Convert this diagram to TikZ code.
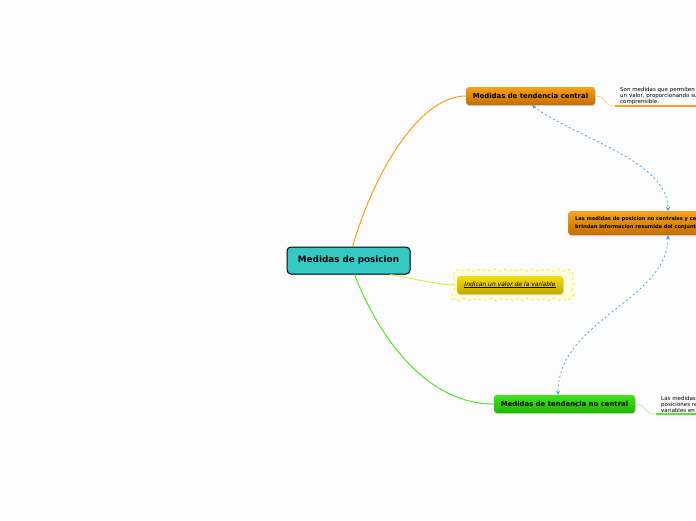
\documentclass[tikz,border=0pt]{standalone}
\usepackage{fontspec}
\setmainfont{DejaVu Sans}
\usetikzlibrary{positioning, arrows.meta, shadows, decorations.pathmorphing}
\definecolor{rootcyan}{HTML}{35C9C4}
\definecolor{orangetop}{HTML}{F7A21A}
\definecolor{orangebot}{HTML}{C46C00}
\definecolor{greentop}{HTML}{3EE41C}
\definecolor{greenbot}{HTML}{1FB600}
\definecolor{yellowtop}{HTML}{F2DC12}
\definecolor{yellowbot}{HTML}{C4A600}
\definecolor{linkblue}{HTML}{4B9BE0}
\definecolor{lineorange}{HTML}{F9A11B}
\definecolor{linegreen}{HTML}{4EE828}
\definecolor{lineyellow}{HTML}{D6F03C}
\newcommand{\subrayado}[1]{\setbox0\hbox{#1}\rlap{\rule[-0.9pt]{\wd0}{0.35pt}}\box0}

\begin{document}
\begin{tikzpicture}[
		x=1pt, y=-1pt,
		topic/.style={rounded corners=3pt, minimum height=18pt, inner sep=2pt, align=center,
			font=\fontsize{6.9}{8}\selectfont\bfseries,
			drop shadow={shadow xshift=0.8pt, shadow yshift=-1.2pt, opacity=0.3}},
		rootbox/.style={topic, draw=black, line width=1pt, fill=rootcyan, rounded corners=4pt,
			minimum width=123pt, minimum height=27pt, font=\fontsize{8.8}{10}\selectfont\bfseries},
		orangebox/.style={topic, top color=orangetop, bottom color=orangebot},
		greenbox/.style={topic, top color=greentop, bottom color=greenbot},
		yellowbox/.style={topic, top color=yellowtop, bottom color=yellowbot,
			font=\fontsize{6}{7}\selectfont\itshape},
		halo/.style={draw=yellow!90!orange, dashed, fill=yellow!14, line width=0.6pt,
			decorate, decoration={snake, amplitude=1.2pt, segment length=9pt}},
		note/.style={align=left, inner sep=1pt, text width=110pt,
			font=\fontsize{5.5}{6.2}\selectfont},
		biarrow/.style={{Stealth[length=4pt, width=4pt]}-{Stealth[length=4pt, width=4pt]},
			dash pattern=on 2pt off 2.5pt, linkblue, line width=0.7pt}
		]
		
		\useasboundingbox (0,0) rectangle (696,520);
		\clip (0,0) rectangle (696,520);
		\fill[white!99!black] (0,0) rectangle (696,520);
		
		% ROOT NODE (Center)
		\node[rootbox] (posicion) at (348.5,260.5) {Medidas de posicion};
		
		% BRANCHES
		\node[orangebox, minimum width=129pt] (central) at (530.5,96) {Medidas de tendencia central};
		\node[greenbox, minimum width=141pt] (nocentral) at (564.5,404) {Medidas de tendencia no central};
		\node[halo, minimum width=116pt, minimum height=29pt] (haloValor) at (510,285) {};
		\node[yellowbox, minimum width=106pt] (valor) at (510,285) {\subrayado{Indican un valor de la variable}};
		
		% SHARED NODE (Right)
		\node[orangebox, anchor=north west, minimum height=24pt, align=left, inner xsep=7pt,
			font=\fontsize{5.1}{7.5}\selectfont\bfseries] (noCentrales) at (568,211)
			{Las medidas de posicion no centrales y centrales\\brindan informacion resumida del conjunto de datos};
		
		% NOTES
		\node[note, anchor=south west] (notaCentral) at (615,106) {\hspace*{4pt}Son medidas que permiten resumir\\\hspace*{4pt}un valor, proporcionando su\\\hspace*{4pt}comprensible.};
		\node[note, anchor=south west] (notaNoCentral) at (656,414) {\hspace*{4pt}Las medidas de\\\hspace*{4pt}posiciones relativas\\\hspace*{4pt}variables en};
		
		% CONNECTIONS
		\draw[lineorange, line width=1pt] ([xshift=4pt]posicion.north) .. controls (375,170) and (420,96) .. (central.west);
		\draw[linegreen, line width=1pt] ([xshift=6pt]posicion.south) .. controls (378,335) and (425,404) .. (nocentral.west);
		\draw[lineyellow, line width=0.9pt] ([xshift=-20pt]posicion.south east) .. controls (420,280) and (440,285) .. (valor.west);
		\draw[lineorange!60, line width=0.5pt] (central.east) .. controls (608,96) and (603,107) .. (notaCentral.south west);
		\draw[lineorange, line width=2pt] (notaCentral.south west) -- (notaCentral.south east);
		\draw[linegreen!60, line width=0.5pt] (nocentral.east) .. controls (648,404) and (643,415) .. (notaNoCentral.south west);
		\draw[linegreen, line width=2pt] (notaNoCentral.south west) -- (notaNoCentral.south east);
		
		\draw[biarrow] ([xshift=1.5pt]central.south) .. controls (575,138) and (668,160) .. ([xshift=100pt]noCentrales.north west);
		\draw[biarrow] ([xshift=100pt]noCentrales.south west) .. controls (668,300) and (558,320) .. ([xshift=-6.5pt]nocentral.north);
		
	\end{tikzpicture}
\end{document}
